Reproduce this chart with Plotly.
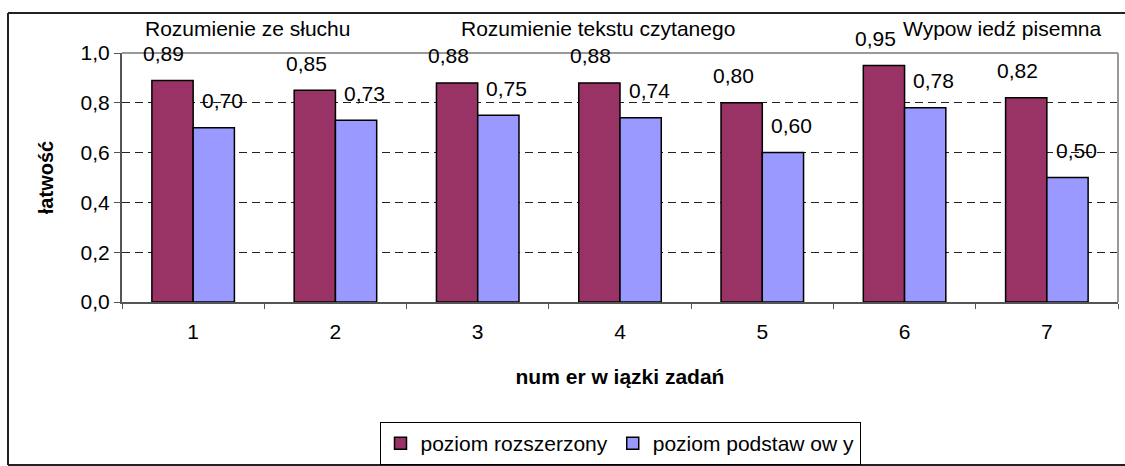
import plotly.graph_objects as go

categories = ["1", "2", "3", "4", "5", "6", "7"]
rozszerzony = [0.89, 0.85, 0.88, 0.88, 0.80, 0.95, 0.82]
podstawowy = [0.70, 0.73, 0.75, 0.74, 0.60, 0.78, 0.50]
series_names = ["poziom rozszerzony", "poziom podstaw ow y"]
section_titles = ["Rozumienie ze słuchu", "Rozumienie tekstu czytanego", "Wypow iedź pisemna"]
section_x = [247, 598, 1002]  # pixel centers

W, H = 1125, 466
L, R, T, B = 122, 7, 53, 164
pw = W - L - R
ph = H - T - B

FONT = "Liberation Sans, Arial, sans-serif"
FS = 21
fig = go.Figure()
fig.add_trace(go.Bar(x=categories, y=rozszerzony, name=series_names[0],
                     marker=dict(color="#993366", line=dict(color="black", width=1.5))))
fig.add_trace(go.Bar(x=categories, y=podstawowy, name=series_names[1],
                     marker=dict(color="#9999FF", line=dict(color="black", width=1.5))))

annotations = []
for i, c in enumerate(categories):
    for k, vals in enumerate([rozszerzony, podstawowy]):
        annotations.append(dict(
            x=i + (-0.205 if k == 0 else 0.205), xref="x", y=vals[i], yref="y",
            text=f"{vals[i]:.2f}".replace(".", ","), showarrow=False,
            yshift=27, font=dict(size=FS, color="black", family=FONT)))
for t, px in zip(section_titles, section_x):
    annotations.append(dict(x=(px - L) / pw, xref="paper", y=(H - B - 28) / ph, yref="paper",
                            text=t, showarrow=False, xanchor="center", yanchor="middle",
                            font=dict(size=FS, color="black", family=FONT)))

bx0, bx1 = (8 - L) / pw, (1125 - L) / pw
by0, by1 = (H - B - 465) / ph, (H - B - 13) / ph

fig.update_layout(
    width=W, height=H, autosize=False,
    margin=dict(l=L, r=R, t=T, b=B, autoexpand=False),
    paper_bgcolor="white", plot_bgcolor="white",
    barmode="group", bargap=0.42, bargroupgap=0,
    separators=", ",
    font=dict(family=FONT, size=FS, color="black"),
    annotations=annotations,
    showlegend=True,
    legend=dict(orientation="h", x=0.5, xanchor="center",
                y=(H - B - 422) / ph, yanchor="top",
                bordercolor="black", borderwidth=1, bgcolor="white",
                font=dict(size=FS, family=FONT), itemclick=False,
                traceorder="normal"),
    xaxis=dict(type="category", tickson="boundaries", ticks="outside", ticklen=5,
               tickcolor="#555", showline=True, linecolor="#555", linewidth=2,
               showgrid=False, tickfont=dict(size=FS), automargin=False,
               ticklabelstandoff=10,
               title=dict(text="<b>num er w iązki zadań</b>", font=dict(size=FS), standoff=27),
               mirror=False),
    yaxis=dict(range=[0, 1.0], tickvals=[0, 0.2, 0.4, 0.6, 0.8, 1.0], tickformat=".1f",
               ticks="outside", ticklen=6, tickcolor="#555", automargin=False,
               showline=True, linecolor="#555", linewidth=2,
               showgrid=True, gridcolor="#222", griddash="8px,5px", gridwidth=1,
               zeroline=False, tickfont=dict(size=FS),
               title=dict(text="<b>łatwość</b>", font=dict(size=20), standoff=22)),
    shapes=[
        dict(type="line", xref="paper", yref="paper", x0=0, x1=1, y0=1, y1=1,
             line=dict(color="#999", width=2)),
        dict(type="line", xref="paper", yref="paper", x0=1, x1=1, y0=0, y1=1,
             line=dict(color="#999", width=2)),
        dict(type="line", xref="paper", yref="paper", x0=bx0, x1=bx1, y0=by1, y1=by1,
             line=dict(color="#222", width=2), layer="below"),
        dict(type="line", xref="paper", yref="paper", x0=bx0, x1=bx0, y0=by0, y1=by1,
             line=dict(color="#222", width=2), layer="below"),
        dict(type="line", xref="paper", yref="paper", x0=bx0, x1=bx1, y0=by0, y1=by0,
             line=dict(color="#222", width=2), layer="below"),
    ],
)
fig.write_html("out.html", config={"responsive": False, "displayModeBar": False},
               post_script="document.body.style.margin='0';document.body.style.overflow='hidden';")
